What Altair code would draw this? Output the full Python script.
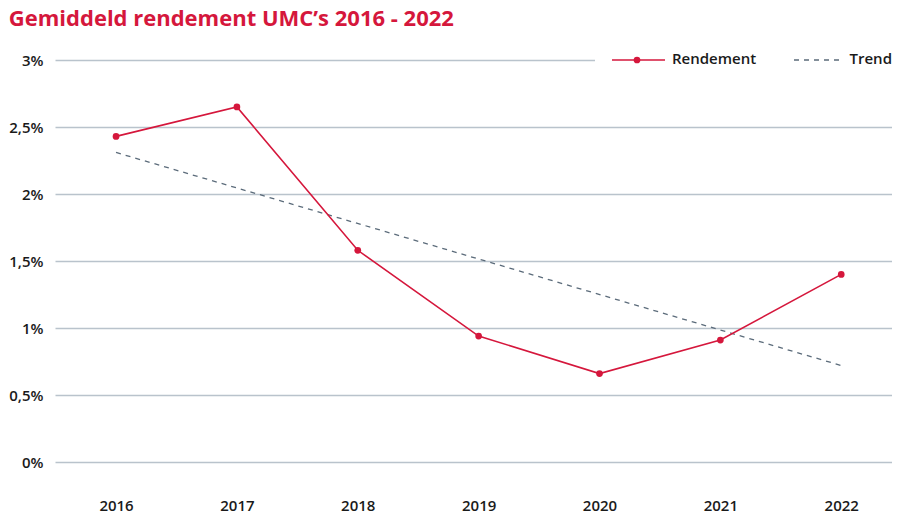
import altair as alt
import pandas as pd

years = [2016, 2017, 2018, 2019, 2020, 2021, 2022]
rendement = [2.43, 2.65, 1.58, 0.94, 0.66, 0.91, 1.40]
trend_years = [2016, 2022]
trend = [2.31, 0.72]
y_ticks = [0, 0.5, 1, 1.5, 2, 2.5, 3]

RED = "#d5173c"
SLATE = "#5b6b7a"
GRID = "#b9c3cc"
TXT = "#1a1a1a"
FONT = "Open Sans"

df = pd.DataFrame({"jaar": years, "rendement": rendement})
tdf = pd.DataFrame({"jaar": trend_years, "trend": trend})
one = pd.DataFrame({"k": [0]})

xscale = alt.Scale(domain=[2015.495, 2022.42], nice=False, zero=False)
yscale = alt.Scale(domain=[0, 3], nice=False, zero=True)

xaxis = alt.Axis(values=years, format="d", grid=False, domain=False, ticks=False,
                 labelPadding=36, labelFontSize=15, labelFont=FONT, labelColor=TXT,
                 labelFontWeight=600, title=None)
yaxis = alt.Axis(values=y_ticks,
                 labelExpr="replace(toString(datum.value), '.', ',') + '%'",
                 grid=True, gridColor=GRID, gridWidth=1.5, domain=False, ticks=False,
                 labelPadding=12, labelFontSize=15, labelFont=FONT, labelColor=TXT,
                 labelFontWeight=600, title=None)

trend_line = alt.Chart(tdf).mark_line(color=SLATE, strokeDash=[5, 5], strokeWidth=1.3).encode(
    x=alt.X("jaar:Q", scale=xscale, axis=xaxis),
    y=alt.Y("trend:Q", scale=yscale, axis=yaxis),
)

line = alt.Chart(df).mark_line(
    color=RED, strokeWidth=1.6,
    point=alt.OverlayMarkDef(color=RED, size=45, filled=True, opacity=1),
).encode(
    x=alt.X("jaar:Q", scale=xscale, axis=xaxis),
    y=alt.Y("rendement:Q", scale=yscale, axis=yaxis),
)

leg_bg = alt.Chart(one).mark_rect(color="white").encode(
    x=alt.value(540), x2=alt.value(837), y=alt.value(-12), y2=alt.value(12))
leg_red = alt.Chart(one).mark_rule(color=RED, strokeWidth=1.6).encode(
    x=alt.value(557), x2=alt.value(610), y=alt.value(0))
leg_dot = alt.Chart(one).mark_point(color=RED, filled=True, size=45, opacity=1).encode(
    x=alt.value(582), y=alt.value(0))
leg_t1 = alt.Chart(one).mark_text(text="Rendement", align="left", baseline="middle",
                                  font=FONT, fontSize=15, fontWeight=600, color=TXT).encode(
    x=alt.value(617), y=alt.value(-1))
leg_dash = alt.Chart(one).mark_rule(color=SLATE, strokeDash=[5, 5], strokeWidth=1.3).encode(
    x=alt.value(739), x2=alt.value(789), y=alt.value(0))
leg_t2 = alt.Chart(one).mark_text(text="Trend", align="right", baseline="middle",
                                  font=FONT, fontSize=15, fontWeight=600, color=TXT).encode(
    x=alt.value(837), y=alt.value(-1))

chart = alt.layer(
    trend_line, line, leg_bg, leg_red, leg_dot, leg_t1, leg_dash, leg_t2
).properties(
    width=837, height=402,
    padding=0,
    background="white",
    title=alt.TitleParams("Gemiddeld rendement UMC’s 2016 - 2022", anchor="start",
                          font=FONT, fontSize=22, fontWeight="bold", color=RED, offset=17),
).configure_view(stroke=None)

chart.save("out.html", embed_options={"renderer": "svg", "actions": False})
